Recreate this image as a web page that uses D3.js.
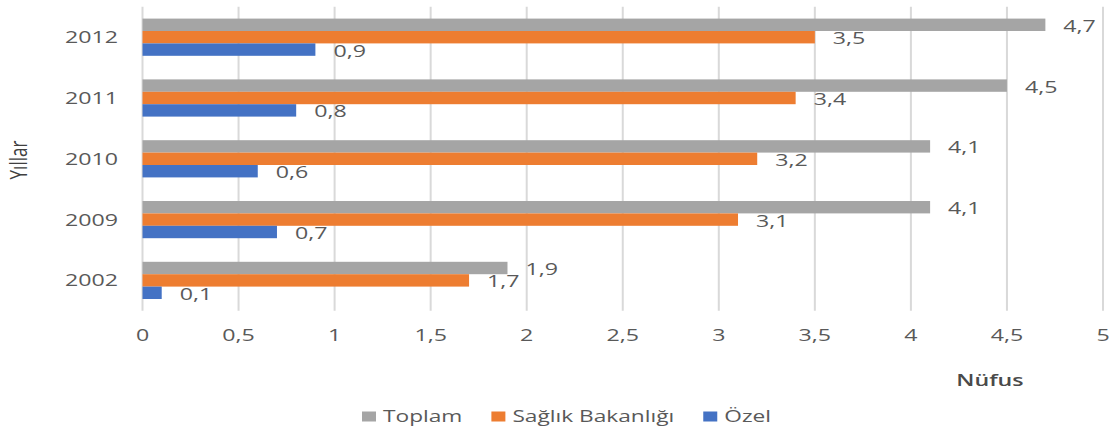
<!DOCTYPE html>
<html><head><meta charset="utf-8">
<script src="https://cdn.jsdelivr.net/npm/d3@7"></script>
<style>body{margin:0;background:#fff}svg{display:block}</style>
</head><body>
<script>
const years = ["2012","2011","2010","2009","2002"];
const seriesNames = ["Toplam","Sağlık Bakanlığı","Özel"];
const toplam = [4.7,4.5,4.1,4.1,1.9];
const saglik = [3.5,3.4,3.2,3.1,1.7];
const ozel = [0.9,0.8,0.6,0.7,0.1];
const xTicks = [0,0.5,1,1.5,2,2.5,3,3.5,4,4.5,5];
const colors = ["#A5A5A5","#ED7D31","#4472C4"];

const W=1118,H=429, SX=1.45, FONT="'Open Sans', sans-serif", TXT="#595959";
const svg=d3.select("body").append("svg").attr("width",W).attr("height",H);
const seriesData=[toplam,saglik,ozel];

const x=d3.scaleLinear().domain([0,5]).range([142.5,1103]);
const y=d3.scaleBand().domain(years).range([6.8,310.8]).paddingInner(0.388).paddingOuter(0.194);
const yi=d3.scaleBand().domain(seriesNames).range([0,y.bandwidth()]);
const fmt=v=>String(v).replace(".",",");

function txt(g,xx,yy,s,opt={}){
  return g.append("text").attr("transform",`translate(${xx},${yy}) scale(${opt.sx||SX},1)`)
    .attr("text-anchor",opt.anchor||"start").attr("dominant-baseline","central")
    .attr("font-family",FONT).attr("font-size",opt.size||16).attr("font-weight",opt.weight||400)
    .attr("fill",opt.fill||TXT).text(s);
}

// grid
svg.append("g").selectAll("line").data(xTicks).join("line")
  .attr("x1",d=>x(d)).attr("x2",d=>x(d)).attr("y1",6.8).attr("y2",310.8)
  .attr("stroke","#D9D9D9").attr("stroke-width",2);

// bars
const gBars=svg.append("g");
years.forEach((yr,i)=>{
  seriesNames.forEach((s,j)=>{
    const v=seriesData[j][i];
    gBars.append("rect").attr("x",x(0)).attr("y",y(yr)+yi(s))
      .attr("width",x(v)-x(0)).attr("height",yi.bandwidth()).attr("fill",colors[j]);
    txt(gBars,x(v)+18,y(yr)+yi(s)+yi.bandwidth()/2+1,fmt(v));
  });
});

// axes labels
const gAx=svg.append("g");
years.forEach(yr=>txt(gAx,118,y(yr)+y.bandwidth()/2,yr,{anchor:"end"}));
xTicks.forEach(t=>txt(gAx,x(t),335,fmt(t),{anchor:"middle"}));

// titles
txt(svg,990,380,"Nüfus",{anchor:"middle",weight:600,fill:"#4a4a4a"});
svg.append("text").attr("transform","translate(18,160) scale(1.4,1) rotate(-90)")
  .attr("text-anchor","middle").attr("dominant-baseline","central")
  .attr("font-family",FONT).attr("font-size",17).attr("fill","#404040").text("Yıllar");

// legend
const lg=svg.append("g");
let lx=362;
seriesNames.forEach((s,j)=>{
  lg.append("rect").attr("x",lx).attr("y",411.5).attr("width",14).attr("height",10).attr("fill",colors[j]);
  const t=txt(lg,lx+21,416,s,{sx:1.42});
  const w=t.node().getComputedTextLength()*1.42;
  lx+=21+w+29;
});
</script>
</body></html>
